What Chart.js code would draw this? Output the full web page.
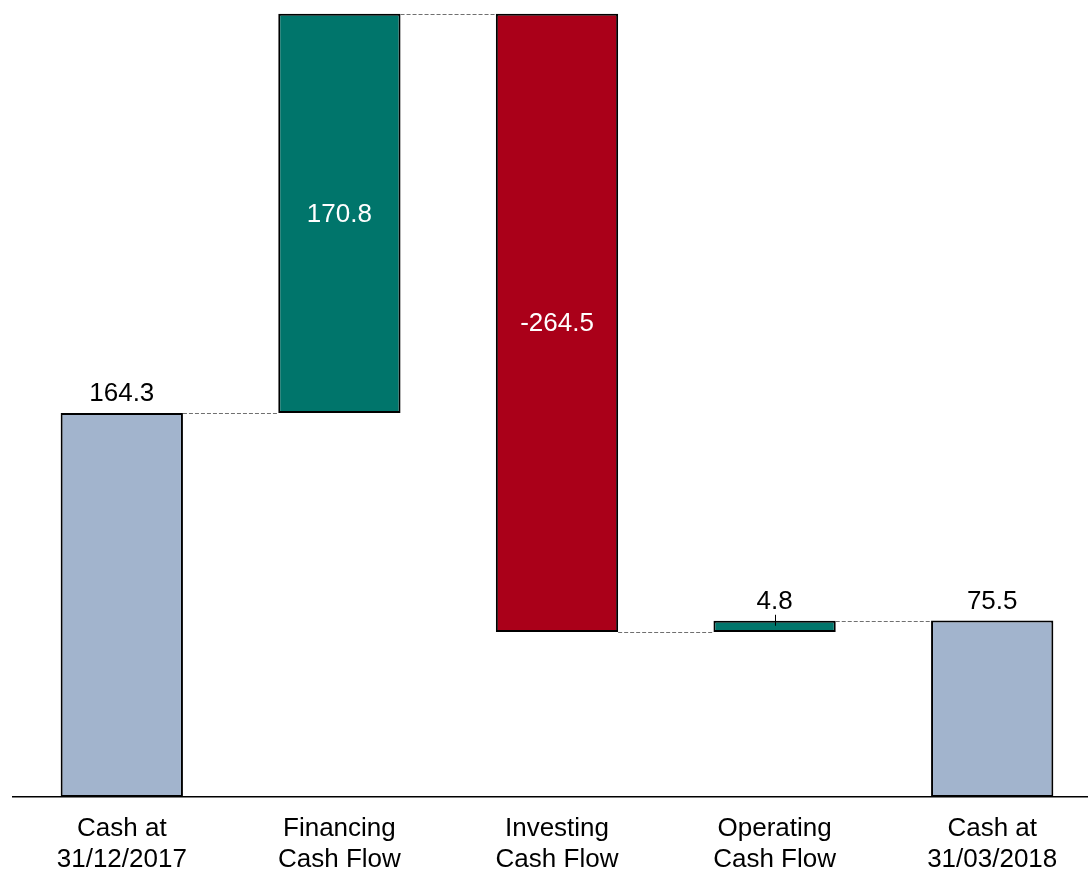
<!DOCTYPE html>
<html><head><meta charset="utf-8">
<script src="https://cdn.jsdelivr.net/npm/chart.js@4/dist/chart.umd.min.js"></script>
<style>html,body{margin:0;padding:0;background:#fff;overflow:hidden;width:1088px;height:871px}canvas{display:block}</style>
</head><body>
<canvas id="c" width="1101" height="871" style="width:1101px;height:871px"></canvas>
<script>
const categories = [['Cash at','31/12/2017'],['Financing','Cash Flow'],['Investing','Cash Flow'],['Operating','Cash Flow'],['Cash at','31/03/2018']];
const values = [164.3, 170.8, -264.5, 4.8, 75.5];
const kinds = ['total','change','change','change','total'];
const valueLabels = ['164.3','170.8','-264.5','4.8','75.5'];
const yMin = 0, yMax = 341;
const colorTotal = '#A2B4CD', colorUp = '#00756B', colorDown = '#AA0019';
const FONT = '"Liberation Sans", Arial, Helvetica, sans-serif';

let run = 0;
const ranges = values.map((v,i)=>{
  if(kinds[i]==='total'){ run = v; return [0, v]; }
  const s = run; run += v; return [s, run];
});
const colors = values.map((v,i)=> kinds[i]==='total' ? colorTotal : (v>=0 ? colorUp : colorDown));

const waterfallDecor = {
  id:'waterfallDecor',
  afterDatasetsDraw(chart){
    const ctx = chart.ctx, meta = chart.getDatasetMeta(0), ys = chart.scales.y;
    ctx.save();
    // connectors
    ctx.strokeStyle = '#707070'; ctx.lineWidth = 1; ctx.setLineDash([4,2]);
    for(let i=0;i<meta.data.length-1;i++){
      const a = meta.data[i], b = meta.data[i+1];
      const y = Math.round(ys.getPixelForValue(ranges[i][1]))+0.5;
      ctx.beginPath();
      ctx.moveTo(a.x + a.width/2, y);
      ctx.lineTo(b.x - b.width/2, y);
      ctx.stroke();
    }
    ctx.setLineDash([]);
    // labels
    ctx.font = '26px ' + FONT; ctx.textAlign = 'center';
    meta.data.forEach((bar,i)=>{
      const [a,b] = ranges[i];
      const top = ys.getPixelForValue(Math.max(a,b)), bot = ys.getPixelForValue(Math.min(a,b));
      if(kinds[i]==='change' && bot-top > 60){
        ctx.fillStyle = '#fff'; ctx.textBaseline = 'middle';
        ctx.fillText(valueLabels[i], bar.x, (top+bot)/2 + 1);
      } else {
        ctx.fillStyle = '#000'; ctx.textBaseline = 'alphabetic';
        ctx.fillText(valueLabels[i], bar.x, top - 12);
        if(kinds[i]==='change'){
          ctx.strokeStyle = '#000'; ctx.lineWidth = 1;
          const x = Math.round(bar.x)+0.5;
          ctx.beginPath(); ctx.moveTo(x, top-6); ctx.lineTo(x, top+5); ctx.stroke();
        }
      }
    });
    ctx.restore();
  }
};

new Chart(document.getElementById('c'), {
  type:'bar',
  data:{
    labels: categories,
    datasets:[{
      data: ranges,
      backgroundColor: colors,
      borderColor:'#000',
      borderWidth:2,
      borderSkipped:false,
      categoryPercentage:1,
      barPercentage:0.562
    }]
  },
  options:{
    responsive:false,
    animation:false,
    devicePixelRatio:1,
    layout:{padding:{left:13,right:0,top:0,bottom:0}},
    plugins:{legend:{display:false},tooltip:{enabled:false}},
    scales:{
      x:{
        type:'category', offset:true,
        grid:{display:false, drawTicks:false},
        border:{display:true,color:'#000',width:1.5},
        ticks:{color:'#000',font:{family:FONT,size:26,lineHeight:1.2},padding:16,maxRotation:0,autoSkip:false},
        afterFit(s){ s.height = 74; }
      },
      y:{display:false,min:yMin,max:yMax}
    }
  },
  plugins:[waterfallDecor]
});
</script>
</body></html>
